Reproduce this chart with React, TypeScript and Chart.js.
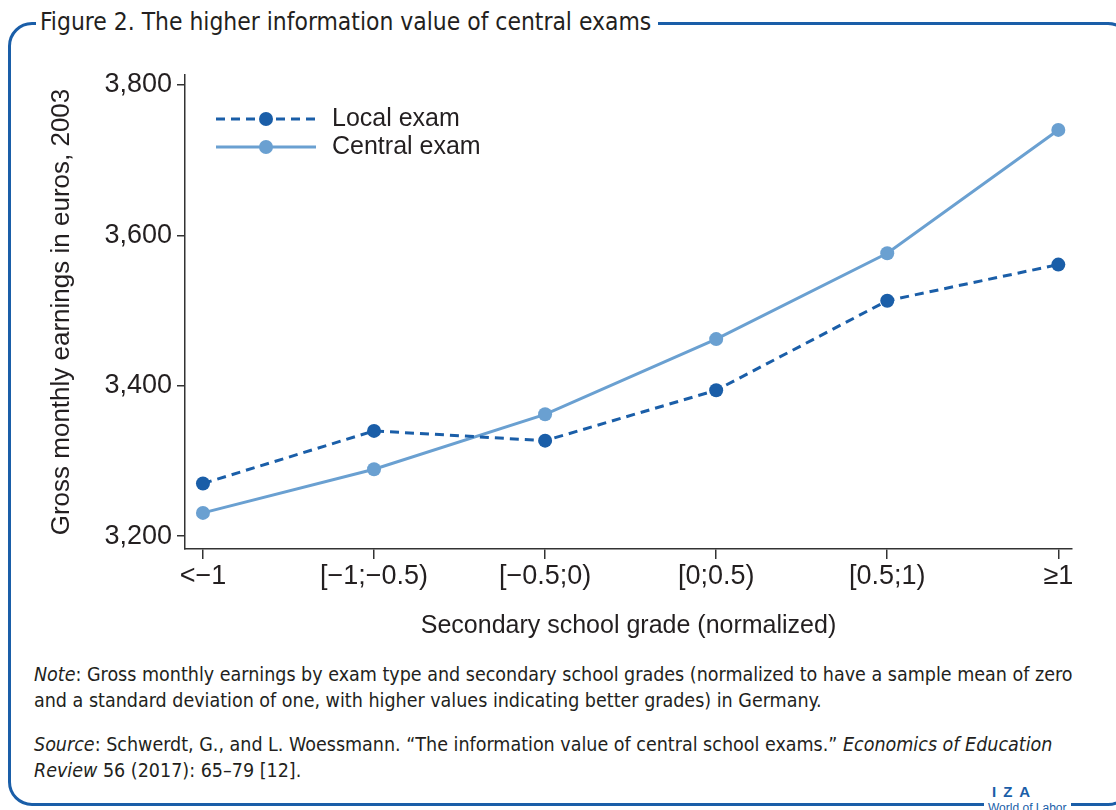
import React, { useEffect, useRef } from "react";
import { Chart, registerables } from "chart.js";

Chart.register(...registerables);

const categories = ["<\u22121", "[\u22121;\u22120.5)", "[\u22120.5;0)", "[0;0.5)", "[0.5;1)", "\u22651"];
const localExam = [3270, 3340, 3327, 3394, 3513, 3561];
const centralExam = [3231, 3289, 3362, 3462, 3576, 3740];
const yTicks = [3200, 3400, 3600, 3800];

const DARK = "#1a5ea8";
const LIGHT = "#6aa0d1";
const TEXT = "#231f20";
const FONT = "'Liberation Sans', Arial, sans-serif";

const legendPlugin = {
  id: "customLegend",
  afterDraw(chart: any) {
    const { ctx, chartArea } = chart;
    const x0 = chartArea.left + 31;
    const items = [
      { label: "Local exam", color: DARK, dash: [9, 6], y: chartArea.top + 44 },
      { label: "Central exam", color: LIGHT, dash: [], y: chartArea.top + 72 },
    ];
    ctx.save();
    items.forEach((it) => {
      ctx.strokeStyle = it.color;
      ctx.lineWidth = 3;
      ctx.setLineDash(it.dash);
      ctx.beginPath();
      ctx.moveTo(x0, it.y);
      ctx.lineTo(x0 + 100, it.y);
      ctx.stroke();
      ctx.setLineDash([]);
      ctx.fillStyle = it.color;
      ctx.beginPath();
      ctx.arc(x0 + 50, it.y, 7, 0, Math.PI * 2);
      ctx.fill();
      ctx.fillStyle = TEXT;
      ctx.font = `25px ${FONT}`;
      ctx.textBaseline = "middle";
      ctx.textAlign = "left";
      ctx.fillText(it.label, x0 + 116, it.y);
    });
    ctx.restore();
  },
};

function ChartView() {
  const ref = useRef<HTMLCanvasElement>(null);
  useEffect(() => {
    if (!ref.current) return;
    const chart = new Chart(ref.current, {
      type: "line",
      data: {
        datasets: [
          {
            label: "Local exam",
            data: localExam.map((v, i) => ({ x: i, y: v })),
            borderColor: DARK,
            backgroundColor: DARK,
            borderWidth: 3,
            borderDash: [9, 6],
            pointRadius: 7,
            pointHoverRadius: 7,
            pointBorderWidth: 0,
            tension: 0,
          },
          {
            label: "Central exam",
            data: centralExam.map((v, i) => ({ x: i, y: v })),
            borderColor: LIGHT,
            backgroundColor: LIGHT,
            borderWidth: 3,
            pointRadius: 7,
            pointHoverRadius: 7,
            pointBorderWidth: 0,
            tension: 0,
          },
        ],
      },
      options: {
        animation: false,
        responsive: false,
        layout: { padding: { top: 75, right: 44, left: 0, bottom: 0 } },
        plugins: { legend: { display: false }, tooltip: { enabled: false } },
        scales: {
          x: {
            type: "linear",
            min: -0.105,
            max: 5.08,
            afterBuildTicks: (s: any) => {
              s.ticks = categories.map((_, i) => ({ value: i }));
            },
            afterFit: (s: any) => {
              s.height = 101;
            },
            ticks: {
              callback: (v: any) => categories[v] ?? "",
              color: TEXT,
              font: { family: FONT, size: 27 },
              padding: 1,
              maxRotation: 0,
              autoSkip: false,
            },
            grid: { display: true, drawOnChartArea: false, drawTicks: true, tickLength: 10, color: "#333", lineWidth: 1.5 },
            border: { display: true, color: "#333", width: 1.5 },
            title: {
              display: true,
              text: "Secondary school grade (normalized)",
              color: TEXT,
              font: { family: FONT, size: 25 },
              padding: { top: 0, bottom: 9 },
            },
          },
          y: {
            type: "linear",
            min: 3183,
            max: 3813,
            afterBuildTicks: (s: any) => {
              s.ticks = yTicks.map((v) => ({ value: v }));
            },
            afterFit: (s: any) => {
              s.width = 185;
            },
            ticks: {
              callback: (v: any) => Number(v).toLocaleString("en-US"),
              color: TEXT,
              font: { family: FONT, size: 27 },
              padding: 5,
            },
            grid: { display: true, drawOnChartArea: false, drawTicks: true, tickLength: 8, color: "#333", lineWidth: 1.5 },
            border: { display: true, color: "#333", width: 1.5 },
            title: {
              display: true,
              text: "Gross monthly earnings in euros, 2003",
              color: TEXT,
              font: { family: FONT, size: 26 },
              padding: { top: 46.4, bottom: 0 },
            },
          },
        },
      },
      plugins: [legendPlugin],
    } as any);
    return () => chart.destroy();
  }, []);
  return <canvas ref={ref} width={1116} height={650} style={{ position: "absolute", left: 0, top: 0, width: 1116, height: 650 }} />;
}

export default function App() {
  const narrow = "'Liberation Sans Narrow', 'DejaVu Sans Condensed', 'Liberation Sans', sans-serif";
  return (
    <div style={{ position: "fixed", left: 0, top: 0, width: 1116, height: 810, overflow: "hidden", background: "#fff" }}>
      <div
        style={{
          position: "absolute",
          left: 8,
          top: 22,
          width: 1124,
          height: 784,
          border: `3px solid ${DARK}`,
          borderRadius: 24,
          boxSizing: "border-box",
        }}
      />
      <div
        style={{
          position: "absolute",
          left: 36,
          top: 7,
          padding: "0 7px 0 4px",
          background: "#fff",
          fontFamily: narrow,
          fontSize: 24.4,
          lineHeight: "30px",
          color: TEXT,
          whiteSpace: "nowrap",
        }}
      >
        Figure 2. The higher information value of central exams
      </div>
      <ChartView />
      <div
        style={{
          position: "absolute",
          left: 34,
          top: 662,
          width: 1080,
          fontFamily: narrow,
          fontSize: 19.5,
          lineHeight: "26px",
          color: TEXT,
          whiteSpace: "nowrap",
        }}
      >
        <div>
          <i>Note</i>: Gross monthly earnings by exam type and secondary school grades (normalized to have a sample mean of zero
          <br />
          and a standard deviation of one, with higher values indicating better grades) in Germany.
        </div>
        <div style={{ marginTop: 18 }}>
          <i>Source</i>: Schwerdt, G., and L. Woessmann. “The information value of central school exams.” <i>Economics of Education</i>
          <br />
          <i>Review</i> 56 (2017): 65–79 [12].
        </div>
      </div>
      <div
        style={{
          position: "absolute",
          left: 984,
          top: 783,
          padding: "0 4px",
          background: "#fff",
          color: DARK,
          fontFamily: "'Liberation Sans', sans-serif",
          whiteSpace: "nowrap",
          height: 30,
        }}
      >
        <div style={{ fontSize: 15, fontWeight: 700, letterSpacing: 7, lineHeight: "18px", paddingLeft: 4 }}>IZA</div>
        <div style={{ fontSize: 12, lineHeight: "14px" }}>World of Labor</div>
      </div>
    </div>
  );
}
